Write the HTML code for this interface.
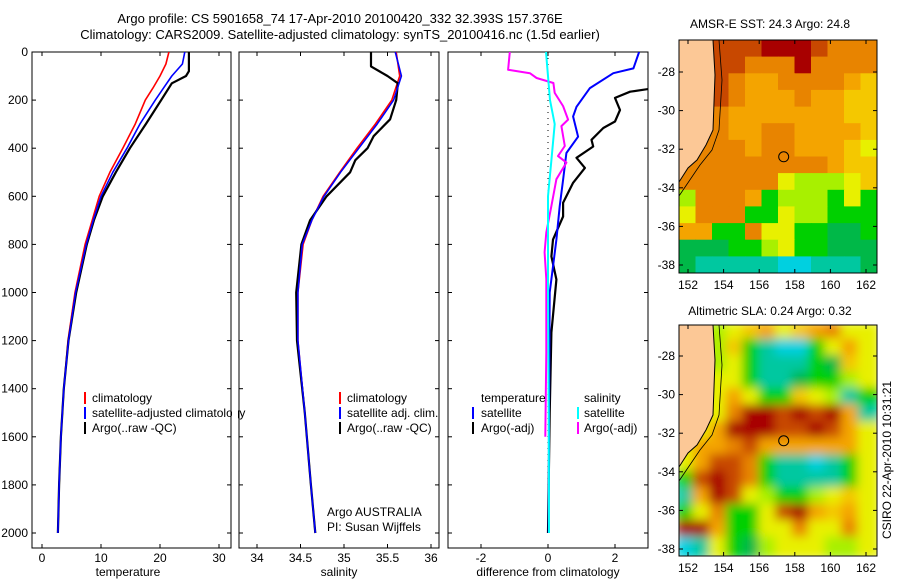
<!DOCTYPE html>
<html><head><meta charset="utf-8"><style>
body{margin:0;background:#fff}
svg{display:block;font-family:"Liberation Sans",sans-serif}
</style></head><body>
<svg id="fig" width="900" height="580" viewBox="0 0 900 580">
<defs>
<clipPath id="c1"><rect x="32" y="52" width="199" height="496"/></clipPath>
<clipPath id="c2"><rect x="239" y="52" width="200" height="496"/></clipPath>
<clipPath id="c3"><rect x="448" y="52" width="200" height="496"/></clipPath>
<clipPath id="cm1"><rect x="679" y="40" width="198" height="233"/></clipPath>
<clipPath id="cm2"><rect x="679" y="325" width="198" height="231"/></clipPath>
<filter id="blur" x="-5%" y="-5%" width="110%" height="110%"><feGaussianBlur stdDeviation="5"/></filter>
</defs>
<text x="340" y="23" font-size="13" text-anchor="middle">Argo profile: CS 5901658_74 17-Apr-2010 20100420_332 32.393S 157.376E</text>
<text x="340" y="39" font-size="13" text-anchor="middle">Climatology: CARS2009. Satellite-adjusted climatology: synTS_20100416.nc (1.5d earlier)</text>
<text x="770" y="28" font-size="12" text-anchor="middle">AMSR-E SST: 24.3 Argo: 24.8</text>
<text x="770" y="315" font-size="12" text-anchor="middle">Altimetric SLA: 0.24 Argo: 0.32</text>
<text x="0" y="0" font-size="12" text-anchor="middle" transform="translate(891,460) rotate(-90)">CSIRO 22-Apr-2010 10:31:21</text>
<g id="g"></g>
</svg>
<script>
// ---- data ----
const tDepth = [0,50,100,150,200,300,400,500,600,700,800,1000,1200,1400,1600,1800,2000];
const tClim = [21.5,21,20,18.8,17.5,15.8,13.7,11.5,9.7,8.5,7.3,5.6,4.4,3.7,3.2,2.9,2.7];
const tSat = [24.2,23.8,22,20.6,19.2,16.6,14.4,12,10,8.7,7.5,5.7,4.5,3.7,3.2,2.9,2.7];
const tArgoDepth = [0,80,100,130,200,300,400,500,600,700,800,1000,1200,1400,1600,1800,2000];
const tArgo = [24.9,24.9,24.4,22,20.2,17.6,14.9,12.5,10.3,8.8,7.6,5.8,4.5,3.7,3.2,2.9,2.7];
const sArgoDepth = [0,60,100,130,200,280,350,400,450,500,600,700,800,1000,1200,1500,1800,2000];
const sArgo = [35.31,35.31,35.5,35.62,35.6,35.53,35.34,35.27,35.13,35.07,34.8,34.61,34.51,34.45,34.46,34.55,34.62,34.67];
const sDepth = [0,100,200,300,400,500,600,700,800,1000,1200,1500,1800,2000];
const sClim = [35.6,35.64,35.55,35.36,35.15,34.95,34.76,34.63,34.53,34.47,34.47,34.55,34.62,34.67];
const sSat = [35.59,35.66,35.57,35.38,35.17,34.96,34.77,34.63,34.52,34.47,34.47,34.55,34.62,34.67];
const dTSatDepth = [0,68,88,150,228,268,352,420,531,642,780,892,1000,1500,2000];
const dTSat = [2.72,2.55,1.95,1.25,0.85,0.75,0.9,0.55,0.45,0.35,0.25,0.15,0.05,0.03,0.02];
const dTArgoDepth = [0,100,154,165,191,241,289,316,365,393,440,482,544,627,684,780,850,946,1166,1500,2000];
const dTArgo = [4.5,3.6,3,2.45,2.0,2.15,2.0,1.65,1.3,1.35,0.85,1.1,0.75,0.45,0.45,0.15,0.1,0.25,0.1,0.05,0.0];
const dSArgoDepth = [0,74,88,108,129,170,225,281,308,391,433,460,529,640,750,833,944,1250,1600];
const dSArgo = [-1.14,-1.19,-0.54,-0.34,0.16,0.2,0.45,0.6,0.4,0.5,0.3,0.55,0.25,0.1,-0.05,-0.1,-0.05,-0.05,-0.08];
const dSSatDepth = [0,200,300,450,600,950,1500,2000];
const dSSat = [-0.06,0.06,0.2,0.1,0.0,0.0,0.02,0.03];
const depthTicks = [0,200,400,600,800,1000,1200,1400,1600,1800,2000];
const tTicks = [0,10,20,30];
const sTicks = [34,34.5,35,35.5,36];
const sTickLabels = ["34","34.5","35","35.5","36"];
const dTicks = [-2,0,2];
const lonTicks = [152,154,156,158,160,162];
const latTicks = [-28,-30,-32,-34,-36,-38];
// map color grids (12 cols x 14 rows)
const sstGrid = ["PPRRRDDDROOO","PPRROOODOOOO","PPROooOOOOoY","PPROoooOooYY","PPOoooooooYY","PPOooOOooooY","PPOOoOOoooYy","POOOOOOOOoYY","OOOOOOyLLLyY","LOOOoGLLLGyG","yOOOGGyLLGGG","ooGGOyyGGggG","gggGGLyGGggg","gTTTTTCCTTTg"];
const slaGrid = ["PPLyYoyYoOyy","PPLYGTCCGyoy","PPLyGTTTGgYy","PPyyGTTgGGLy","PPyoyGGYyLTG","PPyODDRDRDoT","PyoDDDRRDRoy","PooORooooooy","yoRROGTTCTGy","GRDROGTTTTGy","ToDRyLGGLyYy","GyOGGyRDoYoy","DDoGGyyOyyOy","CTyGgLyyyLLy"];
const colors = {P:"#fcc896",D:"#a80000",R:"#c84800",O:"#e88400",o:"#f4a400",Y:"#f4c800",y:"#e8f000",L:"#a8f000",G:"#00d000",g:"#00b848",T:"#00c8a0",C:"#00d0e0"};

const NS="http://www.w3.org/2000/svg";
const G=document.getElementById('g');
function el(tag,attrs,parent){const e=document.createElementNS(NS,tag);for(const k in attrs)e.setAttribute(k,attrs[k]);(parent||G).appendChild(e);return e;}
const yD = d => 52 + d*0.2405;
const xT = v => 42 + v*5.9;
const xS = v => 257 + (v-34)*87;
const xDf = v => 548 + v*33.5;

function axisBox(x0,x1,name){
  const r=el('rect',{x:x0,y:52,width:x1-x0,height:496,fill:'none',stroke:'#000','stroke-width':1});
  
  
  depthTicks.forEach(d=>{
    el('line',{x1:x0,x2:x0+4,y1:yD(d),y2:yD(d),stroke:'#000'});
    el('line',{x1:x1,x2:x1-4,y1:yD(d),y2:yD(d),stroke:'#000'});
  });
}
function xTicks(vals,labels,fx,name){
  vals.forEach((v,i)=>{
    const x=fx(v);
    el('line',{x1:x,x2:x,y1:548,y2:544,stroke:'#000'});
    el('line',{x1:x,x2:x,y1:52,y2:56,stroke:'#000'});
    const t=el('text',{x:x,y:562,'font-size':12,'text-anchor':'middle'});
    t.textContent=labels[i];
    
    
  });
}
function line(ds,vs,fx,color,w,clip,name){
  const pts=ds.map((d,i)=>fx(vs[i]).toFixed(1)+','+yD(d).toFixed(1)).join(' ');
  const p=el('polyline',{points:pts,fill:'none',stroke:color,'stroke-width':w,'clip-path':'url(#'+clip+')','stroke-linejoin':'round'});
  
  
}
function txt(x,y,s,name,anchor){const t=el('text',{x:x,y:y,'font-size':12,'text-anchor':anchor||'start'});t.textContent=s;return t;}
function legBar(x,y,color,name){const r=el('rect',{x:x,y:y-10,width:2,height:12,fill:color});}

// Panel 1
axisBox(32,231,'temperature-panel');
depthTicks.forEach(d=>{txt(28,yD(d)+4,String(d),'depth-tick-label','end');});
xTicks(tTicks,tTicks.map(String),xT,'temperature');
line(tDepth,tClim,xT,'#ff0000',1.6,'c1','temperature-climatology-line');
line(tArgoDepth,tArgo,xT,'#000',2.2,'c1','temperature-argo-line');
line(tDepth,tSat,xT,'#0000ff',1.6,'c1','temperature-satellite-line');
txt(128,576,'temperature','x-axis-title-temperature','middle');
legBar(84,402,'#ff0000','legend-climatology-swatch');txt(92,402,'climatology','legend-climatology');
legBar(84,417,'#0000ff','legend-satellite-swatch');txt(92,417,'satellite-adjusted climatology','legend-satellite-adjusted');
legBar(84,432,'#000','legend-argo-swatch');txt(92,432,'Argo(..raw -QC)','legend-argo');
el('rect',{x:232,y:390,width:6,height:50,fill:'#fff'});

// Panel 2
axisBox(239,439,'salinity-panel');
xTicks(sTicks,sTickLabels,xS,'salinity');
line(sDepth,sClim,xS,'#ff0000',1.6,'c2','salinity-climatology-line');
line(sArgoDepth,sArgo,xS,'#000',2.2,'c2','salinity-argo-line');
line(sDepth,sSat,xS,'#0000ff',1.6,'c2','salinity-satellite-line');
txt(339,576,'salinity','x-axis-title-salinity','middle');
legBar(339,402,'#ff0000','legend2-climatology-swatch');txt(347,402,'climatology','legend2-climatology');
legBar(339,417,'#0000ff','legend2-satellite-swatch');txt(347,417,'satellite adj. clim.','legend2-satellite');
legBar(339,432,'#000','legend2-argo-swatch');txt(347,432,'Argo(..raw -QC)','legend2-argo');
txt(327,516,'Argo AUSTRALIA','argo-australia-label');
txt(327,531,'PI: Susan Wijffels','pi-label');

// Panel 3
axisBox(448,648,'difference-panel');
xTicks(dTicks,dTicks.map(v=>v<0?'-'+Math.abs(v):String(v)),xDf,'difference');
el('line',{x1:xDf(0),x2:xDf(0),y1:yD(0),y2:yD(2000),stroke:'#000','stroke-width':1,'stroke-dasharray':'1,5'});
line(dTArgoDepth,dTArgo,xDf,'#000',2.2,'c3','diff-temperature-argo-line');
line(dTSatDepth,dTSat,xDf,'#0000ff',2,'c3','diff-temperature-satellite-line');
line(dSArgoDepth,dSArgo,xDf,'#ff00ff',2,'c3','diff-salinity-argo-line');
line(dSSatDepth,dSSat,xDf,'#00ffff',2,'c3','diff-salinity-satellite-line');
txt(548,576,'difference from climatology','x-axis-title-difference','middle');
txt(481,402,'temperature','legend3-temperature-header');
txt(584,402,'salinity','legend3-salinity-header');
legBar(472,417,'#0000ff','legend3-t-satellite-swatch');txt(481,417,'satellite','legend3-t-satellite');
legBar(472,432,'#000','legend3-t-argo-swatch');txt(481,432,'Argo(-adj)','legend3-t-argo');
legBar(577,417,'#00ffff','legend3-s-satellite-swatch');txt(584,417,'satellite','legend3-s-satellite');
legBar(577,432,'#ff00ff','legend3-s-argo-swatch');txt(584,432,'Argo(-adj)','legend3-s-argo');

// Maps
function map(grid,top,h,clip,name,blur,lat28y,lat38y){
  const x0=679,w=198,cw=w/12,ch=h/14;
  const g=el('g',{'clip-path':'url(#'+clip+')'});
  
  
  const inner=el('g',blur?{filter:'url(#blur)'}:{},g);
  grid.forEach((row,r)=>{[...row].forEach((c,k)=>{
    el('rect',{x:(x0+k*cw-(blur?3:0)).toFixed(1),y:(top+r*ch-(blur?3:0)).toFixed(1),width:(cw+(blur?6:0.6)).toFixed(1),height:(ch+(blur?6:0.6)).toFixed(1),fill:colors[c==='P'?(blur?'y':'O'):c]},inner);
  });});
  const o=top-40;
  const land=el('polygon',{points:[[679,40],[713,40],[715,75],[713,130],[706,145],[697,160],[688,168],[679,182]].map(p=>p[0]+','+(p[1]+o)).join(' '),fill:colors.P,stroke:'#000','stroke-width':1},g);
  
  
  el('polyline',{points:[[719,40],[722,80],[719,130],[712,150],[700,165],[679,196]].map(p=>p[0]+','+(p[1]+o)).join(' '),fill:'none',stroke:'#000','stroke-width':0.8},g);
  const ly=l=>lat28y+(-28-l)*(lat38y-lat28y)/10;
  const lx=l=>688+(l-152)*17.8;
  const circ=el('circle',{cx:lx(157.376),cy:ly(-32.393),r:5,fill:'none',stroke:'#000'},g);
  
  
  el('rect',{x:x0,y:top,width:w,height:h,fill:'none',stroke:'#000'});
  lonTicks.forEach(l=>{const x=lx(l);el('line',{x1:x,x2:x,y1:top+h,y2:top+h-4,stroke:'#000'});el('line',{x1:x,x2:x,y1:top,y2:top+4,stroke:'#000'});txt(x,top+h+16,String(l),name+'-lon-label','middle');});
  latTicks.forEach(l=>{const y=ly(l);el('line',{x1:x0,x2:x0+4,y1:y,y2:y,stroke:'#000'});el('line',{x1:x0+w,x2:x0+w-4,y1:y,y2:y,stroke:'#000'});txt(x0-4,y+4,String(l),name+'-lat-label','end');});
}
map(sstGrid,40,233,'cm1','sst-map',false,72,265);
map(slaGrid,325,231,'cm2','sla-map',true,356,549);
</script>
</body></html>
